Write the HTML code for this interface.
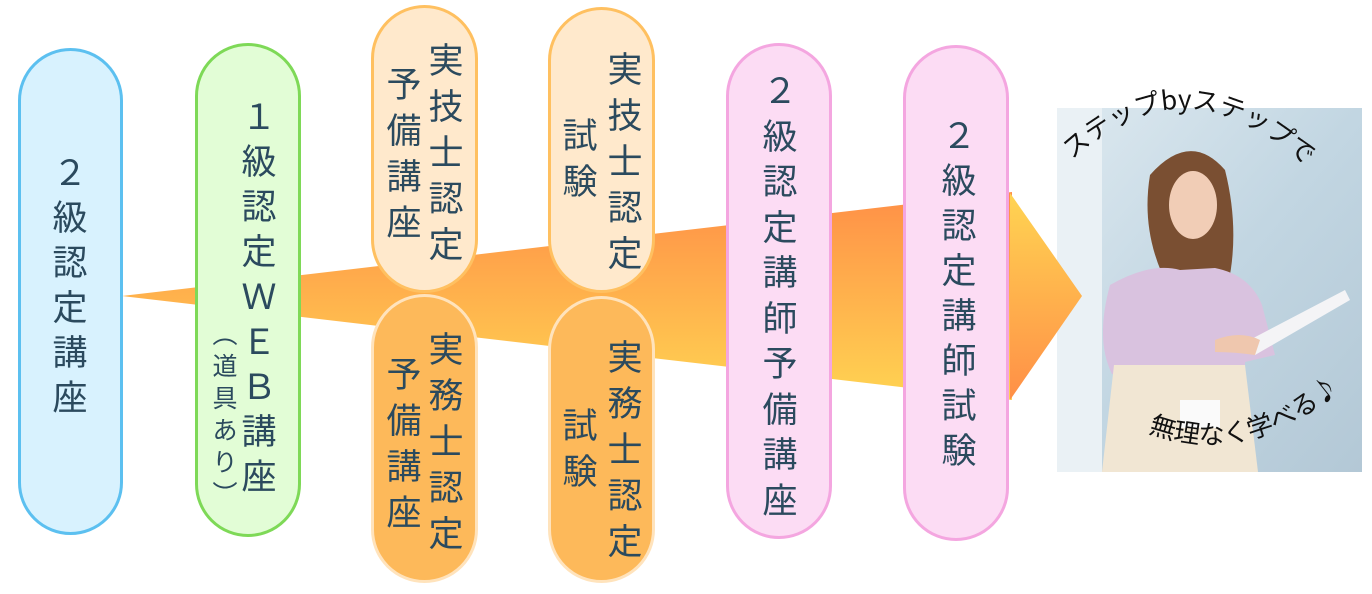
<!DOCTYPE html>
<html><head><meta charset="utf-8"><style>
body{margin:0;width:1372px;height:594px;background:#fff;position:relative;overflow:hidden;font-family:"Liberation Sans","Noto Sans CJK JP",sans-serif;}
.pill{position:absolute;box-sizing:border-box;border-radius:54px;border:3px solid;}
.col{position:absolute;width:50px;text-align:center;color:#2b4a5e;font-size:35px;font-family:"Noto Sans CJK JP",sans-serif;font-weight:400;}
</style></head><body>
<svg width="1372" height="594" style="position:absolute;left:0;top:0">
<defs>
<linearGradient id="g1" x1="0" y1="0" x2="0" y2="1"><stop offset="0" stop-color="#ff8f47"/><stop offset="1" stop-color="#ffd452"/></linearGradient>
</defs>
<polygon points="122,296 1012,192 1012,400" fill="url(#g1)"/>
</svg>

<div class="pill" style="left:18px;top:48px;width:105px;height:487px;background:#d8f2fe;border-color:#5cc0f0"></div>
<div class="pill" style="left:195px;top:43px;width:106px;height:494px;background:#e2fdd6;border-color:#7ed957"></div>
<div class="pill" style="left:371px;top:5px;width:107px;height:288px;background:#ffe9cc;border-color:#ffc060"></div>
<div class="pill" style="left:548px;top:7px;width:107px;height:286px;background:#ffe9cc;border-color:#ffc060"></div>
<div class="pill" style="left:371px;top:294px;width:107px;height:289px;background:#fdb95a;border-color:#ffe3bc"></div>
<div class="pill" style="left:548px;top:296px;width:107px;height:287px;background:#fdb95a;border-color:#ffe3bc"></div>
<div class="pill" style="left:726px;top:43px;width:106px;height:496px;background:#fcdcf4;border-color:#f4a6e0"></div>
<div class="pill" style="left:903px;top:45px;width:106px;height:496px;background:#fcdcf4;border-color:#f4a6e0"></div>

<div class="col" style="left:45px;top:148px;line-height:45px">２<br>級<br>認<br>定<br>講<br>座</div>
<div class="col" style="left:234px;top:92px;line-height:45px">１<br>級<br>認<br>定<br>Ｗ<br>Ｅ<br>Ｂ<br>講<br>座</div>
<div class="col" style="left:205px;top:317px;line-height:32px;font-size:25px;width:40px">︵<br>道<br>具<br>あ<br>り<br>︶</div>
<div class="col" style="left:421px;top:36px;line-height:46px">実<br>技<br>士<br>認<br>定</div>
<div class="col" style="left:379px;top:60px;line-height:46px">予<br>備<br>講<br>座</div>
<div class="col" style="left:600px;top:45px;line-height:46px">実<br>技<br>士<br>認<br>定</div>
<div class="col" style="left:555px;top:111px;line-height:46px">試<br>験</div>
<div class="col" style="left:421px;top:325px;line-height:46px">実<br>務<br>士<br>認<br>定</div>
<div class="col" style="left:379px;top:350px;line-height:46px">予<br>備<br>講<br>座</div>
<div class="col" style="left:600px;top:333px;line-height:46px">実<br>務<br>士<br>認<br>定</div>
<div class="col" style="left:555px;top:401px;line-height:46px">試<br>験</div>
<div class="col" style="left:755px;top:66px;line-height:45.5px">２<br>級<br>認<br>定<br>講<br>師<br>予<br>備<br>講<br>座</div>
<div class="col" style="left:934px;top:111px;line-height:45px">２<br>級<br>認<br>定<br>講<br>師<br>試<br>験</div>

<svg width="1372" height="594" style="position:absolute;left:0;top:0">
<defs>
<linearGradient id="g2" x1="0" y1="0" x2="0" y2="1"><stop offset="0" stop-color="#ffd452"/><stop offset="1" stop-color="#ff8f47"/></linearGradient>
<linearGradient id="bg" x1="0" y1="0" x2="1" y2="1"><stop offset="0" stop-color="#dde9f0"/><stop offset="0.5" stop-color="#c2d6e2"/><stop offset="1" stop-color="#b3c8d6"/></linearGradient>
<clipPath id="cp"><rect x="1057" y="108" width="305" height="364"/></clipPath>
<path id="arc1" d="M1072,160 Q1185,55 1305,165" fill="none"/>
<path id="arc2" d="M1148,432 Q1250,470 1345,385" fill="none"/>
</defs>
<g clip-path="url(#cp)">
<rect x="1057" y="108" width="305" height="364" fill="url(#bg)"/>
<rect x="1057" y="108" width="45" height="364" fill="#eaf1f5"/>
<path d="M1150,175 Q1190,130 1225,170 Q1240,230 1228,285 L1170,290 Q1140,235 1150,175Z" fill="#7a4f32"/>
<ellipse cx="1193" cy="205" rx="24" ry="34" fill="#f1cdb6"/>
<path d="M1110,285 Q1150,262 1180,270 L1215,268 Q1250,275 1262,305 L1275,355 L1245,362 L1245,372 L1112,374 Q1095,340 1110,285Z" fill="#d9c2df"/>
<path d="M1114,365 L1245,365 L1258,472 L1102,472Z" fill="#f1e6d3"/>
<rect x="1180" y="400" width="40" height="28" fill="#fafafa"/>
<polygon points="1240,345 1345,290 1350,300 1255,355" fill="#f4f4f6"/>
<path d="M1215,340 Q1240,330 1260,340 L1255,355 Q1235,352 1215,352Z" fill="#efc7ae"/>
</g>
<polygon points="1010,193 1082,296 1010,400" fill="url(#g2)"/>
<text font-family="'Noto Sans CJK JP',sans-serif" font-size="26" fill="#111"><textPath href="#arc1" startOffset="0">ステップbyステップで</textPath></text>
<text font-family="'Noto Sans CJK JP','DejaVu Sans',sans-serif" font-size="26" fill="#111"><textPath href="#arc2" startOffset="0">無理なく学べる♪</textPath></text>
</svg>
</body></html>
